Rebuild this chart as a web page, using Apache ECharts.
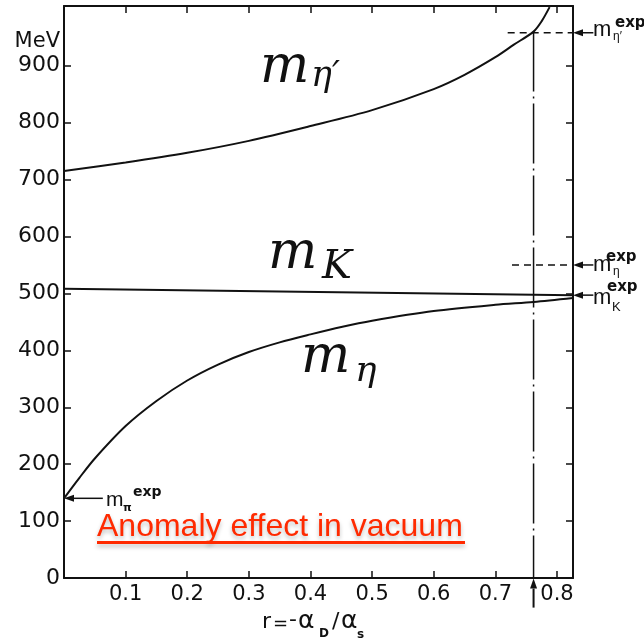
<!DOCTYPE html>
<html>
<head>
<meta charset="utf-8">
<script src="https://cdn.jsdelivr.net/npm/echarts@6/dist/echarts.min.js"></script>
<style>
  html, body { margin: 0; padding: 0; background: #fff; }
  #main { width: 644px; height: 640px; }
</style>
</head>
<body>
<div id="main"></div>
<script>
// x: r = -alpha_D / alpha_s,  y: mass in MeV
var rEtaPrime = [0, 0.1, 0.2, 0.3, 0.4, 0.5, 0.6, 0.65, 0.7, 0.73, 0.762, 0.775, 0.788];
var mEtaPrime = [715, 730, 747, 768, 794, 822, 859, 884, 915, 937, 960, 978, 1003];

var rK = [0, 0.826];
var mK = [508, 497];

var rEta = [0, 0.025, 0.05, 0.1, 0.15, 0.2, 0.25, 0.3, 0.35, 0.4, 0.45, 0.5, 0.6, 0.7, 0.762, 0.826];
var mEta = [140, 176, 210, 267, 311, 347, 375, 397, 414, 428, 441, 452, 469, 480, 485, 492];

// experimental masses (arrows on the frame)
var mEtaPrimeExp = 958;
var mEtaExp = 550;
var mKExp = 497;
var mPiExp = 140;
var rCross = 0.762;   // where m_eta' hits its experimental value

var xTicks = [0.1, 0.2, 0.3, 0.4, 0.5, 0.6, 0.7, 0.8];
var yTicks = [0, 100, 200, 300, 400, 500, 600, 700, 800, 900];
var xMax = 0.826, yMax = 1005;

function pairs(xs, ys) {
  return xs.map(function (x, i) { return [x, ys[i]]; });
}

var black = '#111';
var chart = echarts.init(document.getElementById('main'));

function xAx(pos, labels) {
  return {
    type: 'value', position: pos, min: 0, max: xMax,
    axisLine: { show: true, onZero: false, lineStyle: { color: black, width: 2 } },
    axisTick: { show: true, inside: true, length: 7, customValues: xTicks, lineStyle: { color: black, width: 1.5 } },
    axisLabel: {
      show: labels, customValues: xTicks, margin: 6,
      formatter: function (v) { return v.toFixed(1); },
      color: black, fontSize: 21, fontFamily: 'DejaVu Sans'
    },
    splitLine: { show: false }
  };
}
function yAx(pos, labels) {
  return {
    type: 'value', position: pos, min: 0, max: yMax,
    axisLine: { show: true, onZero: false, lineStyle: { color: black, width: 2 } },
    axisTick: { show: true, inside: true, length: 7, customValues: yTicks, lineStyle: { color: black, width: 1.5 } },
    axisLabel: {
      show: labels, customValues: yTicks, margin: 4,
      color: black, fontSize: 22, fontFamily: 'DejaVu Sans'
    },
    splitLine: { show: false }
  };
}

function curve(data, extra) {
  return Object.assign({
    type: 'line', data: data, symbol: 'none', silent: true, smooth: 0.3,
    lineStyle: { color: black, width: 2 }
  }, extra || {});
}

chart.setOption({
  animation: false,
  backgroundColor: '#fff',
  grid: { left: 64, right: 71, top: 6, bottom: 62 },
  xAxis: [xAx('bottom', true), xAx('top', false)],
  yAxis: [yAx('left', true), yAx('right', false)],
  series: [
    curve(pairs(rEtaPrime, mEtaPrime)),
    curve(pairs(rK, mK), { smooth: false }),
    curve(pairs(rEta, mEta)),
    curve([[0.72, mEtaPrimeExp], [xMax, mEtaPrimeExp]], { smooth: false, lineStyle: { color: black, width: 1.5, type: [7, 5] } }),
    curve([[0.727, mEtaExp], [xMax, mEtaExp]], { smooth: false, lineStyle: { color: black, width: 1.5, type: [7, 5] } }),
    curve([[rCross, 960], [rCross, 0]], { smooth: false, lineStyle: { color: black, width: 1.5, type: [60, 5, 2, 5] } })
  ]
});

function px(r, v) {
  return chart.convertToPixel({ xAxisIndex: 0, yAxisIndex: 0 }, [r, v]);
}

// line from a to b with a filled head at b
function arrow(from, to, w) {
  var a = px(from[0], from[1]), b = px(to[0], to[1]);
  var dx = b[0] - a[0], dy = b[1] - a[1], len = Math.sqrt(dx * dx + dy * dy);
  var ux = dx / len, uy = dy / len, hl = 10, hw = 3.5;
  var bx = b[0] - ux * hl, by = b[1] - uy * hl;
  return [
    { type: 'line', silent: true, shape: { x1: a[0], y1: a[1], x2: bx, y2: by }, style: { stroke: black, lineWidth: w || 1.5 } },
    { type: 'polygon', silent: true, shape: { points: [[b[0], b[1]], [bx - uy * hw, by + ux * hw], [bx + uy * hw, by - ux * hw]] }, style: { fill: black } }
  ];
}

// text placed by left x and baseline
function lab(x, base, text, font, size, opts) {
  return {
    type: 'text', silent: true, x: x, y: base - 0.34 * size,
    style: Object.assign({ text: text, font: font, fill: black, align: 'left', verticalAlign: 'middle' }, opts || {})
  };
}

var serif = function (s) { return 'italic ' + s + 'px "DejaVu Serif"'; };
var sans = function (s) { return s + 'px "Liberation Sans"'; };
var bold = function (s) { return 'bold ' + s + 'px "DejaVu Sans"'; };
var red = '#ff2a00';

var g = [];
g = g.concat(arrow([0.859, mEtaPrimeExp], [xMax, mEtaPrimeExp]));
g = g.concat(arrow([0.859, mEtaExp], [xMax, mEtaExp]));
g = g.concat(arrow([0.859, mKExp], [xMax, mKExp]));
g = g.concat(arrow([0.063, mPiExp], [0, mPiExp]));
g = g.concat(arrow([rCross, -52], [rCross, -1], 2));

g.push(
  // big labels
  lab(260, 86, 'm', serif(52), 52), lab(311, 89, 'η′', serif(35), 35),
  lab(268, 272, 'm', serif(52), 52), lab(322, 281, 'K', serif(40), 40),
  lab(301, 376, 'm', serif(52), 52), lab(355, 384, 'η', serif(36), 36),
  // experimental value tags
  lab(593, 37, 'm', sans(22), 22), lab(613, 41, 'η′', sans(12), 12), lab(615, 28, 'exp', bold(15), 15),
  lab(593, 272, 'm', sans(22), 22), lab(613, 276, 'η', sans(12), 12), lab(606, 262, 'exp', bold(15), 15),
  lab(593, 305, 'm', sans(22), 22), lab(612, 312, 'K', sans(13), 13), lab(607, 292, 'exp', bold(15), 15),
  lab(106, 507, 'm', sans(21), 21), lab(123, 512, 'π', bold(11), 11), lab(133, 497, 'exp', bold(14), 14),
  // y unit
  { type: 'text', silent: true, x: 60, y: 42, style: { text: 'MeV', font: '21px "DejaVu Sans"', fill: black, align: 'right', verticalAlign: 'middle' } },
  // x axis name
  lab(262, 630, 'r', '22px "DejaVu Sans"', 22), lab(273, 630, '=', '18px "DejaVu Sans"', 18),
  lab(289, 628, '-', '22px "DejaVu Sans"', 22), lab(298, 630, 'α', '25px "DejaVu Sans"', 25),
  lab(319, 638, 'D', bold(12), 12), lab(332, 630, '/', '22px "DejaVu Sans"', 22),
  lab(341, 630, 'α', '25px "DejaVu Sans"', 25), lab(357, 639, 's', bold(12), 12),
  // red note
  lab(97, 538, 'Anomaly effect in vacuum', sans(32), 32, {
    fill: red, textShadowColor: 'rgba(0,0,0,0.25)', textShadowBlur: 4, textShadowOffsetY: 3
  }),
  { type: 'line', silent: true, shape: { x1: 97, y1: 542.5, x2: 465, y2: 542.5 },
    style: { stroke: red, lineWidth: 3, shadowColor: 'rgba(0,0,0,0.25)', shadowBlur: 4, shadowOffsetY: 3 } }
);

chart.setOption({ graphic: { elements: g } });
</script>
</body>
</html>
